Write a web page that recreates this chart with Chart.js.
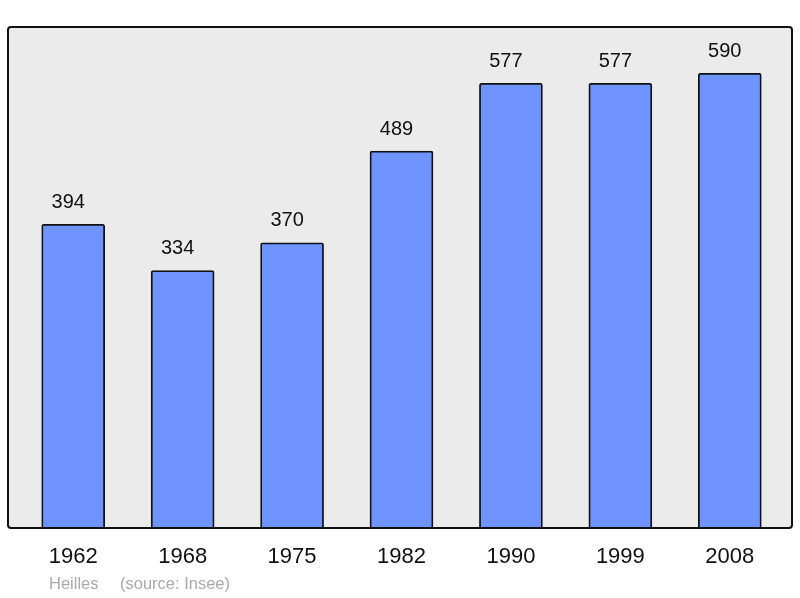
<!DOCTYPE html>
<html>
<head>
<meta charset="utf-8">
<script src="https://cdn.jsdelivr.net/npm/chart.js@4"></script>
<style>
  html, body { margin: 0; padding: 0; background: #fff; }
  #wrap { width: 800px; height: 598px; position: relative; }
</style>
</head>
<body>
<div id="wrap"><canvas id="popChart"></canvas></div>
<script>
const years = ["1962", "1968", "1975", "1982", "1990", "1999", "2008"];
const population = [394, 334, 370, 489, 577, 577, 590];
const footerName = "Heilles";
const footerSource = "(source: Insee)";

// grey panel + frame around the bars, a bit wider than the chart area
const framePlugin = {
  id: "frame",
  beforeDatasetsDraw(chart) {
    const { ctx, chartArea: a } = chart;
    ctx.save();
    ctx.fillStyle = "#ebebeb";
    ctx.beginPath();
    ctx.roundRect(a.left - 10.5, a.top, a.width + 18, a.height, 3);
    ctx.fill();
    ctx.restore();
  },
  afterDatasetsDraw(chart) {
    const { ctx, chartArea: a } = chart;
    ctx.save();
    ctx.strokeStyle = "#111";
    ctx.lineWidth = 2;
    ctx.beginPath();
    ctx.roundRect(a.left - 10.5, a.top, a.width + 18, a.height, 3);
    ctx.stroke();

    // value labels above bars (sit a little left of the bar centre)
    ctx.fillStyle = "#111";
    ctx.font = "20px 'Liberation Sans', Arial, sans-serif";
    ctx.textAlign = "center";
    ctx.textBaseline = "middle";
    chart.getDatasetMeta(0).data.forEach((bar, i) => {
      ctx.fillText(String(population[i]), bar.x - 5, bar.y - 22);
    });

    // footer
    ctx.fillStyle = "#aaa";
    ctx.font = "16.5px 'Liberation Sans', Arial, sans-serif";
    ctx.textAlign = "left";
    ctx.fillText(footerName, 49, 584);
    ctx.fillText(footerSource, 120, 584);
    ctx.restore();
  },
};

new Chart(document.getElementById("popChart"), {
  type: "bar",
  data: {
    labels: years,
    datasets: [
      {
        data: population,
        backgroundColor: "#7094ff",
        borderColor: "#111",
        borderWidth: 1.8,
        borderSkipped: "bottom",
        borderRadius: 2,
        barThickness: 63,
      },
    ],
  },
  options: {
    responsive: true,
    maintainAspectRatio: false,
    animation: false,
    layout: { padding: { left: 18.5, right: 15.5, top: 27, bottom: 0 } },
    scales: {
      x: {
        grid: { display: false },
        border: { display: false },
        ticks: {
          color: "#111",
          padding: 8,
          font: { family: "'Liberation Sans', Arial, sans-serif", size: 22 },
        },
        afterFit(scale) {
          scale.height = 70;
        },
      },
      y: {
        display: false,
        min: 0,
        max: 650,
      },
    },
    plugins: {
      legend: { display: false },
      tooltip: { enabled: false },
    },
  },
  plugins: [framePlugin],
});
</script>
</body>
</html>
